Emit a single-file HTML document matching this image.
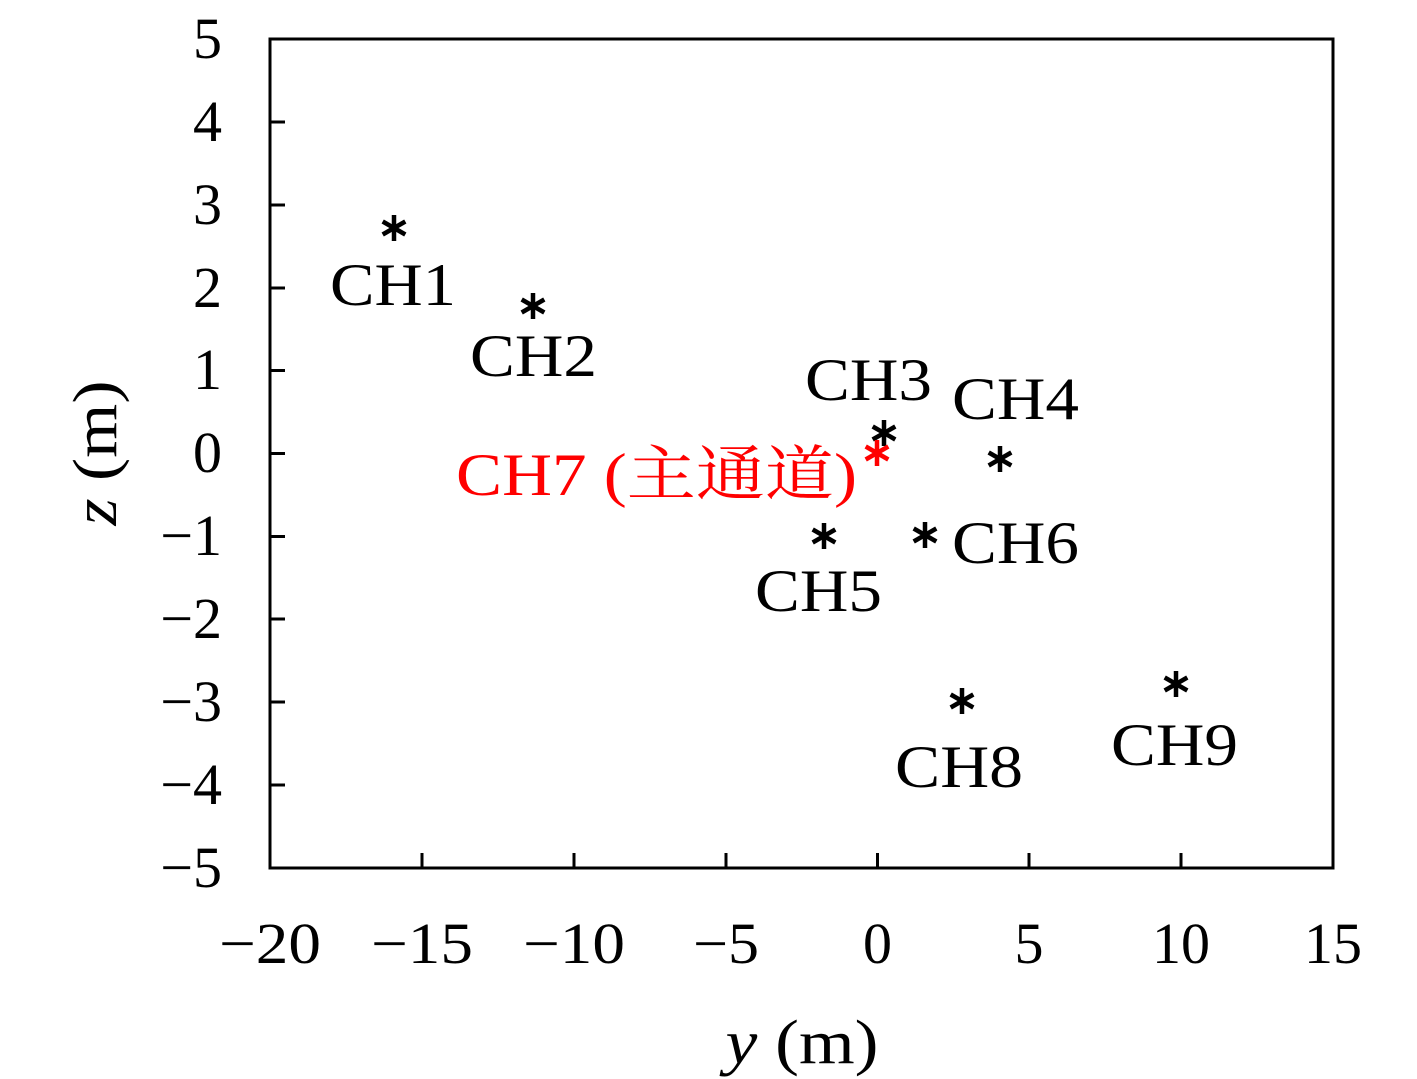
<!DOCTYPE html>
<html><head><meta charset="utf-8"><style>
html,body{margin:0;padding:0;background:#fff;width:1417px;height:1079px;overflow:hidden}
text{font-family:"Liberation Serif","Noto Serif CJK SC",serif}
</style></head><body>
<svg width="1417" height="1079" viewBox="0 0 1417 1079" xmlns="http://www.w3.org/2000/svg">
<defs>
<g id="ast" stroke-width="4.5" stroke-linecap="butt">
<line x1="0" y1="-13" x2="0" y2="13"/>
<line x1="-11.3" y1="-6.5" x2="11.3" y2="6.5"/>
<line x1="-11.3" y1="6.5" x2="11.3" y2="-6.5"/>
</g>
</defs>
<rect x="270" y="39" width="1063" height="829" fill="none" stroke="#000" stroke-width="3"/>
<g stroke="#000" stroke-width="3">
<line x1="422" y1="868" x2="422" y2="853"/>
<line x1="574" y1="868" x2="574" y2="853"/>
<line x1="726" y1="868" x2="726" y2="853"/>
<line x1="877.5" y1="868" x2="877.5" y2="853"/>
<line x1="1029" y1="868" x2="1029" y2="853"/>
<line x1="1181" y1="868" x2="1181" y2="853"/>
<line x1="270" y1="122" x2="285" y2="122"/>
<line x1="270" y1="205" x2="285" y2="205"/>
<line x1="270" y1="288" x2="285" y2="288"/>
<line x1="270" y1="370.5" x2="285" y2="370.5"/>
<line x1="270" y1="453.5" x2="285" y2="453.5"/>
<line x1="270" y1="536.5" x2="285" y2="536.5"/>
<line x1="270" y1="619" x2="285" y2="619"/>
<line x1="270" y1="702" x2="285" y2="702"/>
<line x1="270" y1="785" x2="285" y2="785"/>
</g>
<g font-size="58" text-anchor="end" fill="#000">
<text x="222" y="58">5</text>
<text x="222" y="141">4</text>
<text x="222" y="224">3</text>
<text x="222" y="307">2</text>
<text x="222" y="389">1</text>
<text x="222" y="472">0</text>
<text x="222" y="555">−1</text>
<text x="222" y="638">−2</text>
<text x="222" y="721">−3</text>
<text x="222" y="804">−4</text>
<text x="222" y="887">−5</text>
</g>
<g font-size="58" text-anchor="middle" fill="#000">
<text x="270" y="963" textLength="102" lengthAdjust="spacingAndGlyphs">−20</text>
<text x="422" y="963" textLength="102" lengthAdjust="spacingAndGlyphs">−15</text>
<text x="574" y="963" textLength="102" lengthAdjust="spacingAndGlyphs">−10</text>
<text x="726" y="963" textLength="66" lengthAdjust="spacingAndGlyphs">−5</text>
<text x="877.5" y="963">0</text>
<text x="1029" y="963">5</text>
<text x="1181" y="963">10</text>
<text x="1333" y="963">15</text>
</g>
<text x="802" y="1063" font-size="62" text-anchor="middle" textLength="153" lengthAdjust="spacingAndGlyphs"><tspan font-style="italic">y</tspan> (m)</text>
<text transform="translate(116,453) rotate(-90)" font-size="62" text-anchor="middle" textLength="145" lengthAdjust="spacingAndGlyphs"><tspan font-style="italic">z</tspan> (m)</text>
<g stroke="#000">
<use href="#ast" x="394" y="228"/>
<use href="#ast" x="533" y="306"/>
<use href="#ast" x="884" y="433"/>
<use href="#ast" x="1000" y="459"/>
<use href="#ast" x="824" y="536"/>
<use href="#ast" x="925" y="535"/>
<use href="#ast" x="962" y="701"/>
<use href="#ast" x="1176" y="684"/>
</g>
<use href="#ast" x="877" y="453" stroke="#f00"/>
<g font-size="60" fill="#000">
<text x="330" y="305" textLength="126" lengthAdjust="spacingAndGlyphs">CH1</text>
<text x="470" y="376" textLength="127" lengthAdjust="spacingAndGlyphs">CH2</text>
<text x="805" y="400" textLength="127" lengthAdjust="spacingAndGlyphs">CH3</text>
<text x="952" y="419" textLength="127" lengthAdjust="spacingAndGlyphs">CH4</text>
<text x="952" y="563" textLength="127" lengthAdjust="spacingAndGlyphs">CH6</text>
<text x="755" y="611" textLength="127" lengthAdjust="spacingAndGlyphs">CH5</text>
<text x="895" y="787" textLength="128" lengthAdjust="spacingAndGlyphs">CH8</text>
<text x="1111" y="765" textLength="127" lengthAdjust="spacingAndGlyphs">CH9</text>
<text x="456" y="495" fill="#f00" textLength="401" lengthAdjust="spacingAndGlyphs">CH7 (主通道)</text>
</g>
</svg>
</body></html>
